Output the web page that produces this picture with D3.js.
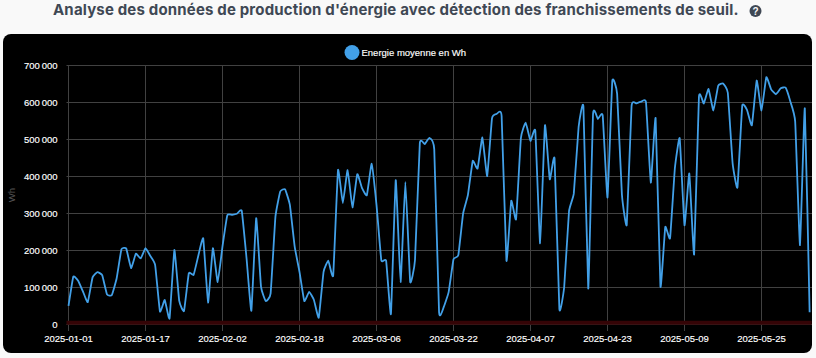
<!DOCTYPE html>
<html lang="fr">
<head>
<meta charset="utf-8">
<script src="https://cdn.jsdelivr.net/npm/d3@7"></script>
<style>
  html, body { margin: 0; padding: 0; background: #f9f9f9; }
  svg { display: block; }
  .chart-title { font: 700 15px Inter, "Open Sans", sans-serif; fill: #3f4854; letter-spacing: 0.17px; }
  .axis text { font: 9.5px "Liberation Sans", Arial, sans-serif; fill: #fff; stroke: #fff; stroke-width: 0.15px; }
  .axis line { stroke: #414141; }
  .axis path { display: none; }
</style>
</head>
<body>
<svg id="chart" width="816" height="358"></svg>
<script>
// Daily average energy (Wh)
const startDate = "2025-01-01";
const energy = [
  49000, 128000, 117000, 88000, 59000, 126000, 140000, 132000, 80000, 78000,
  123000, 202000, 204000, 151000, 190000, 177000, 205000, 184000, 160000, 34000,
  65000, 15000, 200000, 63000, 35000, 137000, 133000, 186000, 231000, 58000,
  205000, 113000, 210000, 294000, 295000, 298000, 306000, 177000, 36000, 286000,
  101000, 62000, 83000, 290000, 358000, 364000, 322000, 209000, 141000, 62000,
  87000, 65000, 17000, 141000, 171000, 131000, 416000, 327000, 416000, 315000,
  405000, 367000, 348000, 433000, 322000, 172000, 171000, 27000, 389000, 113000,
  384000, 114000, 173000, 488000, 486000, 503000, 472000, 32000, 47000, 87000,
  175000, 186000, 299000, 349000, 441000, 420000, 504000, 400000, 556000, 568000,
  562000, 171000, 333000, 283000, 502000, 544000, 495000, 522000, 218000, 537000,
  391000, 447000, 40000, 100000, 304000, 353000, 533000, 587000, 96000, 568000,
  554000, 564000, 342000, 657000, 622000, 349000, 268000, 589000, 596000, 601000,
  599000, 382000, 556000, 101000, 262000, 232000, 421000, 502000, 267000, 407000,
  188000, 614000, 596000, 635000, 577000, 644000, 650000, 625000, 434000, 369000,
  590000, 578000, 537000, 658000, 577000, 667000, 634000, 621000, 637000, 639000,
  601000, 547000, 213000, 583000, 32000
];
const threshold = 3500;
const yTicks = [0, 100000, 200000, 300000, 400000, 500000, 600000, 700000];
const xTickLabels = ["2025-01-01", "2025-01-17", "2025-02-02", "2025-02-18", "2025-03-06",
  "2025-03-22", "2025-04-07", "2025-04-23", "2025-05-09", "2025-05-25"];

const titleText = "Analyse des données de production d'énergie avec détection des franchissements de seuil.";
const legendText = "Energie moyenne en Wh";

// Categories: one label per day
const parseDay = d3.utcParse("%Y-%m-%d");
const formatDay = d3.utcFormat("%Y-%m-%d");
const categories = energy.map((_, i) => formatDay(d3.utcDay.offset(parseDay(startDate), i)));

const svg = d3.select("#chart");

const plot = { left: 68.5, right: 809.625, top: 65, bottom: 324, edge: 812 };

const x = d3.scalePoint().domain(categories).range([plot.left, plot.right]);
const y = d3.scaleLinear().domain([0, 700000]).range([plot.bottom, plot.top]);

// Page title and the help icon next to it
svg.append("text")
  .attr("class", "chart-title")
  .attr("x", 53)
  .attr("y", 15)
  .text(titleText);

svg.append("circle").attr("cx", 755.5).attr("cy", 11).attr("r", 6).attr("fill", "#3f4854");
svg.append("text")
  .attr("x", 755.5)
  .attr("y", 15)
  .attr("text-anchor", "middle")
  .attr("fill", "#f9f9f9")
  .style("font", "700 10px 'Liberation Sans', Arial, sans-serif")
  .text("?");

// Black panel behind the chart
svg.append("rect")
  .attr("x", 3).attr("y", 34)
  .attr("width", 809).attr("height", 319)
  .attr("rx", 8)
  .attr("fill", "#000");

// Axes double as the grid
const xAxis = svg.append("g")
  .attr("class", "axis")
  .attr("transform", `translate(0,${plot.bottom + 7})`)
  .call(d3.axisBottom(x)
    .tickValues(xTickLabels)
    .offset(0)
    .tickSize(0)
    .tickPadding(0));
xAxis.selectAll("line")
  .attr("y1", 0)
  .attr("y2", plot.top - plot.bottom - 7);
xAxis.selectAll("text").attr("y", 4).attr("dy", "0.71em");

const yAxis = svg.append("g")
  .attr("class", "axis")
  .attr("transform", `translate(${plot.left - 2},0)`)
  .call(d3.axisLeft(y)
    .tickValues(yTicks)
    .tickFormat(d => d3.format(",")(d).replace(/,/g, "\u202f"))
    .tickSize(0)
    .tickPadding(9));
yAxis.selectAll("line")
  .attr("x1", 0)
  .attr("x2", plot.edge - plot.left + 2);

// Axis title
svg.append("text")
  .attr("transform", "translate(15,195) rotate(-90)")
  .attr("text-anchor", "middle")
  .attr("fill", "#555")
  .style("font", "9.5px 'Liberation Sans', Arial, sans-serif")
  .text("Wh");

// Threshold crossing line, dark red along the bottom
svg.append("path")
  .datum(categories)
  .attr("fill", "none")
  .attr("stroke", "#350406")
  .attr("stroke-width", 4)
  .attr("stroke-linecap", "square")
  .attr("d", d3.line().x(d => x(d)).y(() => y(threshold)));

// Energy line
const line = d3.line()
  .x((d, i) => x(categories[i]))
  .y(d => y(d))
  .curve(d3.curveCardinal.tension(0.65));

svg.append("path")
  .datum(energy)
  .attr("fill", "none")
  .attr("stroke", "#42a0e8")
  .attr("stroke-width", 1.8)
  .attr("stroke-linejoin", "round")
  .attr("d", line);

// Legend
svg.append("circle").attr("cx", 352).attr("cy", 52.5).attr("r", 7.5).attr("fill", "#42a0e8");
svg.append("text")
  .attr("x", 361.5)
  .attr("y", 55.5)
  .attr("fill", "#fff")
  .attr("stroke", "#fff")
  .attr("stroke-width", 0.15)
  .style("font", "9.5px 'Liberation Sans', Arial, sans-serif")
  .text(legendText);
</script>
</body>
</html>
